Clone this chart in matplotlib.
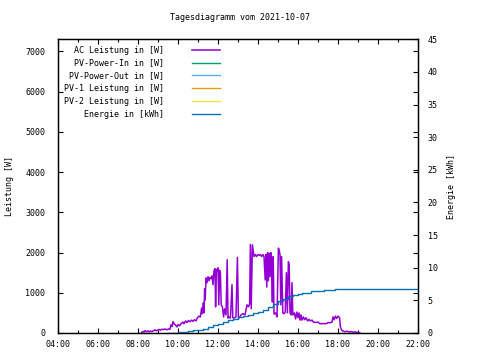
import matplotlib
matplotlib.use("Agg")
import matplotlib.pyplot as plt
from matplotlib.ticker import MultipleLocator

# AC power (W) over the day, time in decimal hours
ac_hours = [8.18, 8.25, 8.30, 8.35, 8.42, 8.50, 8.55, 8.62, 8.70, 8.78, 8.85, 8.92,
            9.00, 9.05, 9.12, 9.20, 9.28, 9.35, 9.45, 9.52, 9.60, 9.65, 9.70, 9.75,
            9.80, 9.87, 9.95, 10.00, 10.08, 10.15, 10.25, 10.30, 10.38, 10.45, 10.52,
            10.60, 10.68, 10.75, 10.82, 10.90, 10.97, 11.05, 11.12, 11.18, 11.22,
            11.27, 11.30, 11.33, 11.36, 11.40, 11.45, 11.50, 11.55, 11.60, 11.65,
            11.70, 11.75, 11.80, 11.85, 11.88, 11.92, 11.96, 12.00, 12.04, 12.08,
            12.12, 12.16, 12.22, 12.28, 12.33, 12.40, 12.46, 12.50, 12.55, 12.62,
            12.70, 12.74, 12.80, 12.90, 12.97, 13.02, 13.08, 13.15, 13.25, 13.35,
            13.45, 13.52, 13.58, 13.62, 13.66, 13.72, 13.80, 13.87, 13.93, 14.00,
            14.07, 14.12, 14.18, 14.25, 14.30, 14.36, 14.40, 14.44, 14.48, 14.52,
            14.56, 14.60, 14.64, 14.68, 14.72, 14.76, 14.80, 14.88, 14.95, 15.02,
            15.06, 15.10, 15.14, 15.18, 15.24, 15.30, 15.36, 15.42, 15.47, 15.52,
            15.56, 15.60, 15.66, 15.70, 15.74, 15.82, 15.88, 15.94, 16.00, 16.05,
            16.10, 16.15, 16.20, 16.27, 16.33, 16.40, 16.48, 16.55, 16.62, 16.70,
            16.78, 16.90, 17.00, 17.10, 17.25, 17.40, 17.50, 17.60, 17.70, 17.75,
            17.80, 17.87, 17.93, 18.00, 18.08, 18.12, 18.18, 18.25, 18.35, 18.45,
            18.55, 18.65, 18.75, 18.85, 18.95, 19.05, 19.10]
ac_power = [15, 40, 20, 60, 30, 55, 25, 50, 35, 60, 80, 55,
            75, 90, 70, 95, 85, 100, 80, 100, 95, 200, 160, 280,
            230, 200, 150, 210, 180, 230, 270, 230, 300, 260, 310,
            280, 320, 290, 330, 300, 380, 420, 400, 620, 480,
            750, 500, 1100, 820, 1370, 1250, 1400, 1300, 1380, 1350,
            1420, 1200, 1550, 1600, 650, 1580, 1550, 1620, 700, 1560,
            1500, 700, 650, 400, 600, 450, 1820, 370, 400, 370,
            1200, 380, 370, 400, 1880, 370, 380, 450, 480, 450,
            700, 650, 720, 2200, 600, 2190, 1900, 1950, 1900, 1950,
            1930, 1950, 1900, 1950, 1900, 1320, 1950, 1140, 2000, 1300,
            1980, 1400, 2000, 1500, 770, 1900, 470, 500, 400, 2110,
            2050, 1950, 700, 1900, 500, 480, 520, 1500, 500, 1770,
            1700, 500, 450, 1250, 450, 500, 350, 520, 380, 500,
            320, 450, 320, 400, 330, 380, 300, 340, 300, 320,
            265, 265, 270, 230, 235, 230, 260, 255, 270, 400,
            330, 420, 360, 420, 380, 150, 75, 50, 30, 45,
            25, 35, 20, 30, 15, 10, 0]

# cumulative energy (kWh)
en_hours = [9.50, 9.75, 10.00, 10.25, 10.50, 10.75, 11.00, 11.25, 11.50, 11.75,
            12.00, 12.25, 12.50, 12.75, 13.00, 13.25, 13.50, 13.75, 14.00, 14.25,
            14.50, 14.75, 15.00, 15.25, 15.50, 15.75, 16.00, 16.20, 16.65, 17.30,
            17.85, 22.00]
energy = [0.0, 0.05, 0.15, 0.22, 0.30, 0.40, 0.50, 0.65, 0.85, 1.15,
          1.45, 1.70, 1.95, 2.20, 2.40, 2.60, 2.80, 3.00, 3.25, 3.60,
          4.00, 4.45, 4.90, 5.25, 5.60, 5.85, 6.05, 6.20, 6.40, 6.55,
          6.72, 6.72]

labels = ["AC Leistung in [W]", "PV-Power-In in [W]", "PV-Power-Out in [W]",
          "PV-1 Leistung in [W]", "PV-2 Leistung in [W]", "Energie in [kWh]"]
colors = ["#9400d3", "#009e73", "#56b4e9", "#e69f00", "#f0e442", "#0072b2"]

x_ticks = [4, 6, 8, 10, 12, 14, 16, 18, 20, 22]
x_ticklabels = ["04:00", "06:00", "08:00", "10:00", "12:00", "14:00",
                "16:00", "18:00", "20:00", "22:00"]

mono = "DejaVu Sans Mono"
fs = 6
plt.rcParams.update({"font.family": mono, "font.size": fs})

fig = plt.figure(figsize=(4.8, 3.6), dpi=100)
ax = fig.add_axes([58 / 480, 27 / 360, 360 / 480, 293.7 / 360])
ax2 = ax.twinx()

width = max(len(l) for l in labels)
padded = [l.rjust(width) for l in labels]

handles = []
h, = ax.plot(ac_hours, ac_power, color=colors[0], lw=1.1, label=padded[0])
handles.append(h)
# these series have no samples on this day, they only show up in the key
for lab, col in zip(padded[1:5], colors[1:5]):
    h, = ax.plot([], [], color=col, lw=1.0, label=lab)
    handles.append(h)
h, = ax2.plot(en_hours, energy, color=colors[5], lw=1.0, drawstyle="steps-post",
              label=padded[5])
handles.append(h)

ax.set_xlim(4, 22)
ax.set_ylim(0, 7300)
ax2.set_ylim(0, 45)

ax.set_xticks(x_ticks)
ax.set_xticklabels(x_ticklabels)
ax.xaxis.set_minor_locator(MultipleLocator(1))
ax.yaxis.set_major_locator(MultipleLocator(1000))
ax2.yaxis.set_major_locator(MultipleLocator(5))

ax.tick_params(axis="x", which="both", direction="in", top=True, pad=5, labelsize=fs)
ax.tick_params(axis="x", which="major", length=3.5, width=0.8)
ax.tick_params(axis="x", which="minor", length=2, width=0.8)
ax.tick_params(axis="y", direction="in", right=True, length=3.5, width=0.8, pad=9,
               labelsize=fs)
ax2.tick_params(axis="y", direction="in", length=3.5, width=0.8, pad=7, labelsize=fs)

for a in (ax, ax2):
    for s in a.spines.values():
        s.set_linewidth(0.9)

leg = ax.legend(handles=handles, loc="upper left", bbox_to_anchor=(0.0, 1.0),
                frameon=False, markerfirst=False, fontsize=fs, borderpad=0.45,
                borderaxespad=0.3, labelspacing=0.47, handlelength=3.4,
                handletextpad=3.3)

fig.text(0.5, 1 - 17 / 360, "Tagesdiagramm vom 2021-10-07", ha="center", va="center",
         fontsize=fs)
fig.text(10 / 480, 1 - 186 / 360, "Leistung [W]", rotation=90, ha="center",
         va="center", fontsize=fs)
fig.text(452 / 480, 1 - 186 / 360, "Energie [kWh]", rotation=90, ha="center",
         va="center", fontsize=fs)

fig.savefig("out.png", dpi=100)
